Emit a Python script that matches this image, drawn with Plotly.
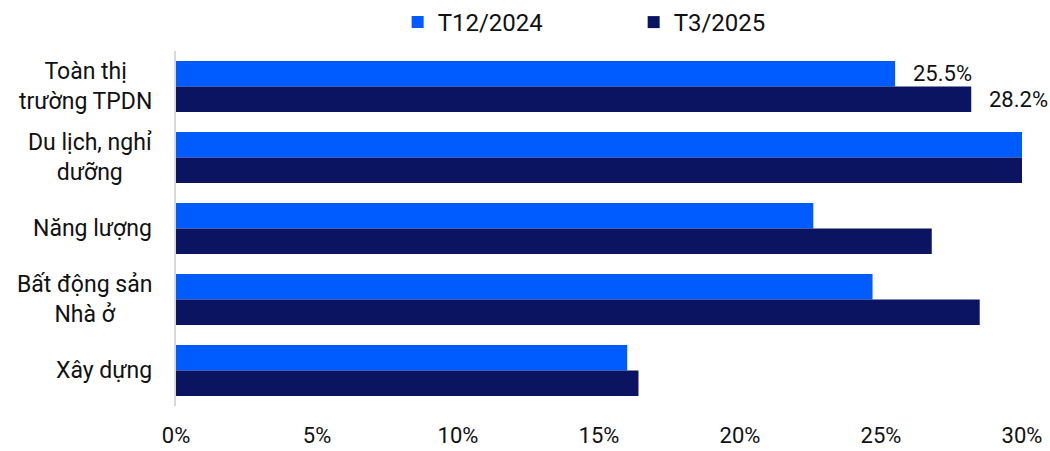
import plotly.graph_objects as go

categories = ["Toàn thị<br>trường TPDN", "Du lịch, nghỉ<br>dưỡng", "Năng lượng",
              "Bất động sản<br>Nhà ở", "Xây dựng"]
t12_2024 = [25.5, 30.0, 22.6, 24.7, 16.0]
t3_2025 = [28.2, 30.0, 26.8, 28.5, 16.4]
x_ticks = [0, 5, 10, 15, 20, 25, 30]
x_tick_labels = ["0%", "5%", "10%", "15%", "20%", "25%", "30%"]

BLUE = "#005CFF"
NAVY = "#0A1460"
FONT = "Roboto"
TEXT = "#111111"

fig = go.Figure()
fig.add_trace(go.Bar(y=categories, x=t12_2024, name="T12/2024", orientation="h",
                     marker=dict(color=BLUE, line=dict(width=0))))
fig.add_trace(go.Bar(y=categories, x=t3_2025, name="T3/2025", orientation="h",
                     marker=dict(color=NAVY, line=dict(width=0))))

# value labels for the whole-market row only (upper bar / lower bar of the group)
for val, yshift in ((t12_2024[0], 13), (t3_2025[0], -13)):
    fig.add_annotation(x=val, y=categories[0], text=f"{val}%", showarrow=False,
                       xanchor="left", xshift=16, yshift=yshift,
                       font=dict(family=FONT, size=22, color=TEXT))

# category labels: centred lines, block right-aligned left of the axis
for cat in categories:
    fig.add_annotation(x=0, xref="paper", y=cat, yref="y", text=cat,
                       showarrow=False, xanchor="right", xshift=-22,
                       align="center", font=dict(family=FONT, size=23, color=TEXT))

fig.update_layout(
    width=1050, height=451,
    margin=dict(l=176, r=28, t=51, b=45, autoexpand=False),
    paper_bgcolor="white", plot_bgcolor="white",
    barmode="group", bargap=0.28, bargroupgap=0,
    font=dict(family=FONT, size=22, color=TEXT),
    showlegend=True,
    legend=dict(orientation="h", x=0.262, xanchor="left", yref="container", y=1.0,
                yanchor="top", font=dict(family=FONT, size=24, color=TEXT),
                entrywidth=191, entrywidthmode="pixels", traceorder="normal"),
)
fig.update_xaxes(range=[0, 30], tickvals=x_ticks, ticktext=x_tick_labels,
                 showgrid=False, zeroline=False, showline=False, ticks="",
                 ticklabelstandoff=14, automargin=False,
                 tickfont=dict(family=FONT, size=22, color=TEXT))
fig.update_yaxes(autorange="reversed", showgrid=False, zeroline=False,
                 showline=True, linecolor="#d9d9d9", linewidth=1.5, ticks="",
                 showticklabels=False, automargin=False)

fig.write_html("out.html")
